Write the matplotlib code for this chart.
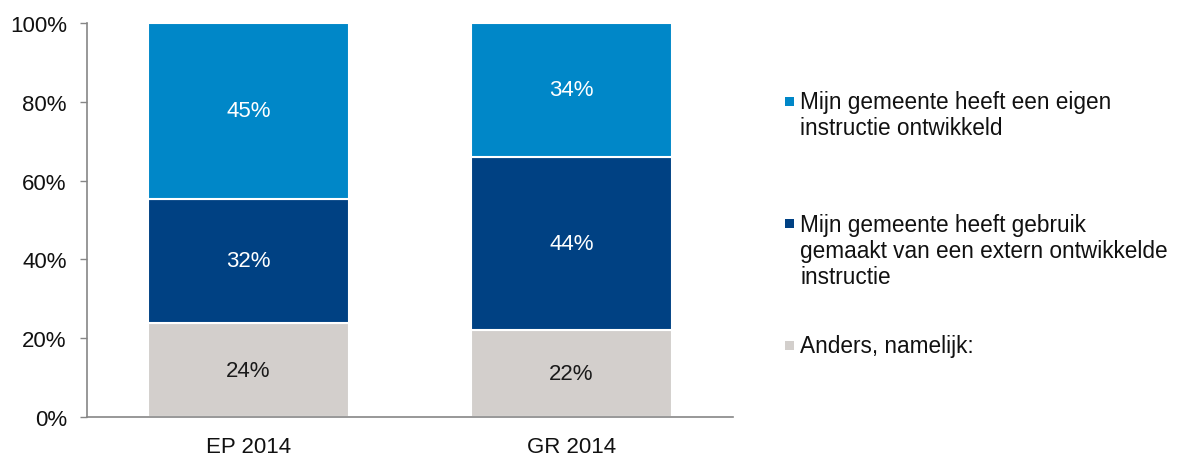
import matplotlib
matplotlib.use("Agg")
import matplotlib.pyplot as plt
from matplotlib.patches import Rectangle

categories = ["EP 2014", "GR 2014"]
series_names = [
    "Anders, namelijk:",
    "Mijn gemeente heeft gebruik\ngemaakt van een extern ontwikkelde\ninstructie",
    "Mijn gemeente heeft een eigen\ninstructie ontwikkeld",
]
anders = [24, 22]
extern = [32, 44]
eigen = [45, 34]
yticks = [0, 20, 40, 60, 80, 100]
ytick_labels = ["0%", "20%", "40%", "60%", "80%", "100%"]

colors = ["#D3CFCC", "#004183", "#0087C8"]
label_colors = ["#1a1a1a", "white", "white"]

plt.rcParams["font.family"] = ["Liberation Sans", "DejaVu Sans"]

W, H = 1178, 456
fig = plt.figure(figsize=(W / 100, H / 100), dpi=100)
ax = fig.add_axes([87 / W, (H - 418) / H, (733 - 87) / W, (418 - 24) / H])

# 100% stacked: each column is scaled by its own total
series = [anders, extern, eigen]
totals = [sum(col) for col in zip(*series)]

x = list(range(len(categories)))
bottom = [0.0] * len(categories)
for vals, col, lcol in zip(series, colors, label_colors):
    heights = [v / t * 100 for v, t in zip(vals, totals)]
    ax.bar(x, heights, bottom=bottom, width=0.62, color=col,
           edgecolor="white", linewidth=1.5, zorder=2)
    for xi, v, h, b in zip(x, vals, heights, bottom):
        ax.text(xi, b + h / 2, f"{v}%", ha="center", va="center",
                color=lcol, fontsize=16, zorder=3)
    bottom = [b + h for b, h in zip(bottom, heights)]

ax.set_xlim(-0.5, 1.5)
ax.set_ylim(0, 100)
ax.set_yticks(yticks)
ax.set_yticklabels(ytick_labels)
ax.set_xticks(x)
ax.set_xticklabels(categories)
ax.tick_params(axis="y", length=5, width=1, color="#868686", labelsize=16,
               labelcolor="#111111", pad=9.5)
ax.tick_params(axis="x", length=0, labelsize=16, labelcolor="#111111", pad=13.5)
for side in ["top", "right"]:
    ax.spines[side].set_visible(False)
for side in ["left", "bottom"]:
    ax.spines[side].set_color("#868686")
    ax.spines[side].set_linewidth(1.2)

# Legend on the right: square swatch plus wrapped label
# (text anchored at the baseline of its last line)
legend_entries = [
    (series_names[2], colors[2], 98, 135),
    (series_names[1], colors[1], 220, 284),
    (series_names[0], colors[0], 342, 353),
]
for text, col, ysq, ybase in legend_entries:
    fig.patches.append(Rectangle((785 / W, 1 - (ysq + 9) / H), 9 / W, 9 / H,
                                 transform=fig.transFigure, facecolor=col,
                                 edgecolor="none"))
    fig.text(800 / W, 1 - ybase / H, text, ha="left", va="baseline",
             fontsize=16.3, color="#111111", linespacing=1.18)

fig.savefig("out.png", dpi=100)
